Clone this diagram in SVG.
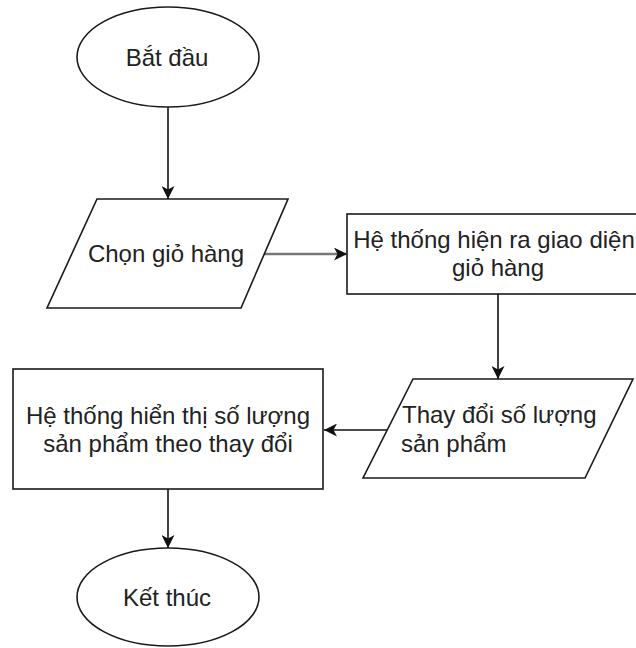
<svg xmlns="http://www.w3.org/2000/svg" width="636" height="648" viewBox="0 0 636 648">
  <defs>
    <marker id="arrow" markerUnits="userSpaceOnUse" markerWidth="14" markerHeight="13" refX="13" refY="6.5" orient="auto">
      <path d="M0,0 L13,6.5 L0,13 L3.5,6.5 Z" fill="#111"/>
    </marker>
    <style>
      .shape { fill: #ffffff; stroke: #1a1a1a; stroke-width: 1.6; }
      .label { font-family: "Liberation Sans", Arial, Helvetica, sans-serif; font-size: 24px; fill: #222; }
      .mid { text-anchor: middle; }
      .edge { fill: none; stroke: #111; stroke-width: 1.6; marker-end: url(#arrow); }
    </style>
  </defs>

  <rect width="636" height="648" fill="#ffffff"/>

  <!-- connectors -->
  <g id="connectors">
    <line id="e-start-select" class="edge" x1="168" y1="107" x2="168" y2="199"/>
    <line id="e-select-show" class="edge" x1="264" y1="254" x2="347" y2="254" style="stroke:#777;stroke-width:2.4"/>
    <line id="e-show-change" class="edge" x1="498" y1="294" x2="498" y2="379"/>
    <line id="e-change-display" class="edge" x1="387" y1="430" x2="324" y2="430"/>
    <line id="e-display-end" class="edge" x1="168" y1="489" x2="168" y2="548"/>
  </g>

  <!-- start -->
  <g id="start">
    <ellipse class="shape" cx="168" cy="57" rx="91" ry="50"/>
    <text class="label mid" x="167" y="66">Bắt đầu</text>
  </g>

  <!-- input: choose cart -->
  <g id="select-cart">
    <polygon class="shape" points="97,199 288,199 241,308 47,308"/>
    <text class="label mid" x="166" y="262">Chọn giỏ hàng</text>
  </g>

  <!-- process: show cart screen (box runs past the right edge) -->
  <g id="show-cart">
    <rect class="shape" x="347" y="214" width="302" height="80"/>
    <text class="label mid" x="494" y="248">Hệ thống hiện ra giao diện</text>
    <text class="label mid" x="498" y="276">giỏ hàng</text>
  </g>

  <!-- input: change quantity -->
  <g id="change-quantity">
    <polygon class="shape" points="413,379 633,379 585,478 363,478"/>
    <text class="label" x="402" y="423">Thay đổi số lượng</text>
    <text class="label" x="401" y="452">sản phẩm</text>
  </g>

  <!-- process: display updated quantity -->
  <g id="display-quantity">
    <rect class="shape" x="13" y="369" width="310" height="120"/>
    <text class="label mid" x="168" y="424">Hệ thống hiển thị số lượng</text>
    <text class="label mid" x="168" y="452">sản phẩm theo thay đổi</text>
  </g>

  <!-- end -->
  <g id="end">
    <ellipse class="shape" cx="168" cy="597" rx="91" ry="49"/>
    <text class="label mid" x="167" y="606">Kết thúc</text>
  </g>
</svg>
